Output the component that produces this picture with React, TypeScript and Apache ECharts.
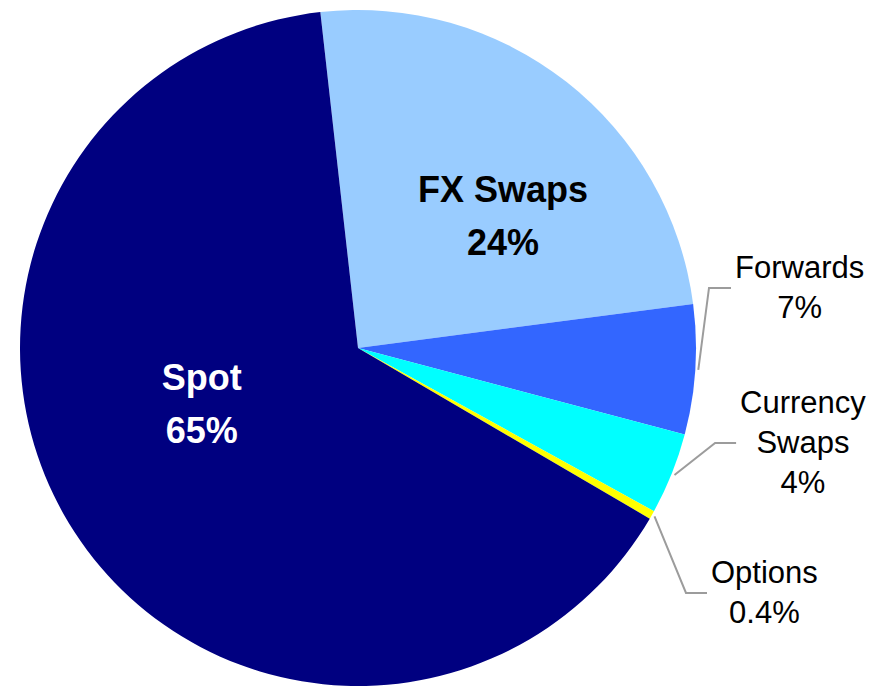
import React, { useEffect, useRef } from 'react';
import * as echarts from 'echarts';

// ---- data ----
const categories = ['FX Swaps', 'Forwards', 'Currency Swaps', 'Options', 'Spot'];
const values = [24.7, 6.2, 3.9, 0.4, 64.8];
const labelNames = ['FX Swaps', 'Forwards', 'Currency\nSwaps', 'Options', 'Spot'];
const labelValues = ['24%', '7%', '4%', '0.4%', '65%'];

// ---- style / layout ----
const colors = ['#99CCFF', '#3366FF', '#00FFFF', '#FFFF00', '#000080'];
const CENTER = [358, 348];
const RADIUS = 338;
const START_ANGLE = 96.4;
const FONT = '"Liberation Sans", Arial, Helvetica, sans-serif';

type LabelCfg = {
  inside: boolean;
  color: string;
  dx?: number;
  dy?: number;
  kink?: [number, number];
  len?: number;
};
const labelCfg: LabelCfg[] = [
  { inside: true, color: '#000000', dx: 39, dy: 3 },
  { inside: false, color: '#000000', kink: [13.7, -81.7], len: 22 },
  { inside: false, color: '#000000', kink: [43.4, -30.9], len: 21 },
  { inside: false, color: '#000000', kink: [34.1, 78], len: 21 },
  { inside: true, color: '#FFFFFF', dx: -12, dy: -38 },
];

function buildFormatter(i: number) {
  const lines = labelNames[i].split('\n').map((l) => `{n|${l}}`);
  lines.push(`{n|${labelValues[i]}}`);
  return lines.join('\n');
}

export default function App() {
  const ref = useRef<HTMLDivElement>(null);
  useEffect(() => {
    if (!ref.current) return;
    const chart = echarts.init(ref.current, undefined, { renderer: 'svg' });
    const data = categories.map((name, i) => {
      const cfg = labelCfg[i];
      const inside = cfg.inside;
      return {
        name,
        value: values[i],
        itemStyle: { color: colors[i] },
        label: {
          show: true,
          position: inside ? 'inside' : 'outside',
          formatter: buildFormatter(i),
          rich: {
            n: {
              align: 'center',
              fontFamily: FONT,
              fontSize: inside ? 36 : 31,
              fontWeight: inside ? 'bold' : 'normal',
              lineHeight: inside ? 53 : 40,
              color: cfg.color,
            },
          },
        },
        labelLine: {
          show: !inside,
          smooth: false,
          length: 10,
          length2: 20,
          lineStyle: { color: '#9C9C9C', width: 2 },
        },
      };
    });

    chart.setOption({
      animation: false,
      backgroundColor: '#ffffff',
      series: [
        {
          type: 'pie',
          center: CENTER,
          radius: RADIUS,
          startAngle: START_ANGLE,
          clockwise: true,
          avoidLabelOverlap: false,
          emphasis: { disabled: true },
          itemStyle: { borderWidth: 0 },
          data,
          labelLayout: (p: any) => {
            const cfg = labelCfg[p.dataIndex];
            if (!cfg) return {};
            if (cfg.inside) {
              const r = p.labelRect;
              return {
                x: r.x + r.width / 2 + (cfg.dx || 0),
                y: r.y + r.height / 2 + (cfg.dy || 0),
                align: 'center',
                verticalAlign: 'middle',
              };
            }
            const pts = p.labelLinePoints;
            if (!pts || !pts.length) return {};
            const ax = pts[0][0];
            const ay = pts[0][1];
            const vx = ax - CENTER[0];
            const vy = ay - CENTER[1];
            const l = Math.hypot(vx, vy) || 1;
            const start = [ax + (vx / l) * 3, ay + (vy / l) * 3];
            const kink = [ax + cfg.kink![0], ay + cfg.kink![1]];
            const end = [kink[0] + (cfg.len || 20), kink[1]];
            return {
              x: end[0] + 4,
              y: end[1],
              align: 'left',
              verticalAlign: 'middle',
              labelLinePoints: [start, kink, end],
            };
          },
        },
      ],
    });
    return () => chart.dispose();
  }, []);

  return (
    <div
      ref={ref}
      style={{ position: 'fixed', left: 0, top: 0, width: 877, height: 687, background: '#fff' }}
    />
  );
}
